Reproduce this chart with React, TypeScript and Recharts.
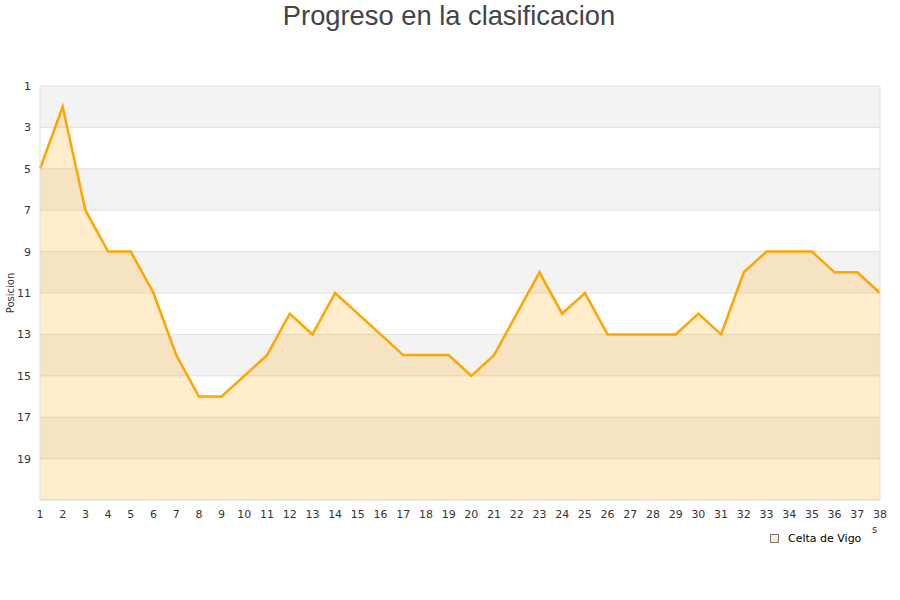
import { Area, AreaChart, CartesianGrid, Legend, XAxis, YAxis } from "recharts";

const jornadas = [
  1, 2, 3, 4, 5, 6, 7, 8, 9, 10, 11, 12, 13, 14, 15, 16, 17, 18, 19,
  20, 21, 22, 23, 24, 25, 26, 27, 28, 29, 30, 31, 32, 33, 34, 35, 36, 37, 38,
];
const posiciones = [
  5, 2, 7, 9, 9, 11, 14, 16, 16, 15, 14, 12, 13, 11, 12, 13, 14, 14, 14,
  15, 14, 12, 10, 12, 11, 13, 13, 13, 13, 12, 13, 10, 9, 9, 9, 10, 10, 11,
];
const yTicks = [1, 3, 5, 7, 9, 11, 13, 15, 17, 19];

const data = jornadas.map((j, i) => ({ jornada: j, celta: posiciones[i] }));

const FONT = "'DejaVu Sans', Verdana, sans-serif";
const tickStyle = { fontSize: 11, fill: "#333", fontFamily: FONT };

function LegendBox() {
  return (
    <div style={{ display: "flex", alignItems: "center", fontFamily: FONT, fontSize: 11, color: "#000" }}>
      <span
        style={{
          width: 7,
          height: 7,
          background: "#feebc8",
          border: "1px solid #777",
          marginRight: 9,
          display: "inline-block",
        }}
      />
      Celta de Vigo
    </div>
  );
}

export default function App() {
  return (
    <div style={{ position: "absolute", left: 0, top: 0, width: 900, height: 600, background: "#fff" }}>
      <div
        style={{
          position: "absolute",
          top: 0,
          left: 0,
          width: 898,
          textAlign: "center",
          fontFamily: "'Liberation Sans', Arial, sans-serif",
          fontSize: 27.3,
          lineHeight: "32px",
          color: "#444",
        }}
      >
        Progreso en la clasificacion
      </div>
      <AreaChart width={900} height={600} data={data} margin={{ top: 86, right: 19, bottom: 57, left: 0 }}>
        <CartesianGrid
          yAxisId="l"
          vertical={false}
          stroke="#e0e0e0"
          horizontalFill={["#f3f3f3", "#ffffff"]}
        />
        <XAxis
          dataKey="jornada"
          type="number"
          domain={[1, 38]}
          ticks={jornadas}
          interval={0}
          tickLine={false}
          axisLine={{ stroke: "#ddd" }}
          tick={tickStyle}
          height={30}
          tickMargin={4}
        />
        <YAxis
          yAxisId="l"
          type="number"
          domain={[1, 21]}
          reversed
          ticks={yTicks}
          interval={0}
          tickLine={false}
          axisLine={{ stroke: "#ddd" }}
          tick={tickStyle}
          width={40}
          tickSize={6}
          tickMargin={3}
          label={{
            content: () => (
              <text
                x={14}
                y={293}
                transform="rotate(-90 14 293)"
                textAnchor="middle"
                fontSize={10}
                fontFamily={FONT}
                fill="#333"
              >
                Posicion
              </text>
            ),
          }}
        />
        <YAxis
          yAxisId="r"
          orientation="right"
          domain={[1, 21]}
          tick={false}
          tickLine={false}
          axisLine={{ stroke: "#ddd" }}
          width={1}
        />
        <Area
          yAxisId="l"
          type="linear"
          dataKey="celta"
          name="Celta de Vigo"
          stroke="#ffa500"
          strokeWidth={2.5}
          fill="#ffa500"
          fillOpacity={0.2}
          baseValue={21}
          dot={false}
          activeDot={false}
          isAnimationActive={false}
        />
        <Legend
          content={() => <LegendBox />}
          wrapperStyle={{ position: "absolute", left: 770, top: 532, width: 120 }}
        />
      </AreaChart>
      <div style={{ position: "absolute", left: 872, top: 524, fontFamily: FONT, fontSize: 10, color: "#333" }}>s</div>
    </div>
  );
}
